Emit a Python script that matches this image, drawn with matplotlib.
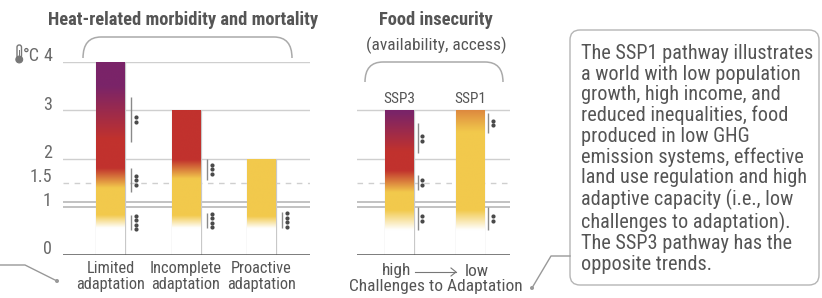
import numpy as np
import matplotlib
matplotlib.use('Agg')
import matplotlib.pyplot as plt
from matplotlib import font_manager
from matplotlib.transforms import Affine2D, blended_transform_factory
from matplotlib.path import Path
from matplotlib.patches import PathPatch, FancyBboxPatch, Circle, Rectangle
from matplotlib.lines import Line2D

W, H = 822, 298


def pick_font(cands):
    for c in cands:
        try:
            font_manager.findfont(font_manager.FontProperties(family=c), fallback_to_default=False)
            return c
        except Exception:
            pass
    return 'DejaVu Sans'


FONT = pick_font(['Liberation Sans Narrow', 'Roboto Condensed', 'Open Sans Condensed', 'Liberation Sans'])
plt.rcParams['font.family'] = [FONT, 'DejaVu Sans']

# ---------------- data ----------------
heat_categories = ['Limited\nadaptation', 'Incomplete\nadaptation', 'Proactive\nadaptation']
heat_top = [4, 3, 2]
# risk transitions (start, end) in degC: undetectable->moderate, moderate->high, high->very high
heat_moderate = [(0.56, 0.83), (0.56, 0.82), (0.55, 0.80)]
heat_high = [(1.39, 1.80), (1.58, 1.97), None]
heat_very_high = [(2.40, 3.50), None, None]
# confidence segments: (low, high, number of dots)
heat_confidence = [[(2.34, 3.27, 2), (1.30, 1.80, 3), (0.52, 0.83, 4)],
                   [(1.55, 2.00, 3), (0.56, 0.87, 4)],
                   [(0.56, 0.89, 4)]]

food_categories = ['SSP3', 'SSP1']
food_top = [3, 3]
food_moderate = [(0.52, 0.93), (0.52, 0.93)]
food_high = [(1.30, 1.75), (2.55, 3.60)]
food_very_high = [(2.15, 2.95), None]
food_confidence = [[(2.11, 2.73, 2), (1.35, 1.66, 2), (0.52, 1.00, 2)],
                   [(2.53, 2.94, 2), (0.52, 1.00, 2)]]

ytick_values = [0, 1, 1.5, 2, 3, 4]
ytick_labels = ['0', '1', '1.5', '2', '3', '4']

box_text = ("The SSP1 pathway illustrates\na world with low population\ngrowth, high income, and\n"
            "reduced inequalities, food\nproduced in low GHG\nemission systems, effective\n"
            "land use regulation and high\nadaptive capacity (i.e., low\nchallenges to adaptation).\n"
            "The SSP3 pathway has the\nopposite trends.")

# ---------------- style ----------------
WHITE = np.array([1.0, 1.0, 1.0])
YELLOW = np.array([242, 201, 76]) / 255
RED = np.array([193, 50, 45]) / 255
PURPLE = np.array([122, 36, 104]) / 255
TXT = '#555555'
GRID = '#cfcfcf'

fig = plt.figure(figsize=(W / 100, H / 100), dpi=100)
PX = Affine2D().scale(1, -1).translate(0, H)  # pixel coords, origin top-left


def frac(v, rng):
    if rng is None:
        return np.zeros_like(v)
    return np.clip((v - rng[0]) / (rng[1] - rng[0]), 0, 1)


def bar_colors(v, mod, high, vh):
    c = WHITE + (YELLOW - WHITE) * frac(v, mod)[:, None]
    c = c + (RED - YELLOW) * frac(v, high)[:, None]
    c = c + (PURPLE - RED) * frac(v, vh)[:, None]
    return np.clip(c, 0, 1)


def draw_panel(ax, cats, tops, mods, highs, vhs, confs, width, px_per_unit, line_px, dot_px):
    x = np.arange(len(cats))
    bars = ax.bar(x, tops, width=width, color='none', linewidth=0, zorder=3)
    for i, b in enumerate(bars):
        x0, x1 = b.get_x(), b.get_x() + b.get_width()
        ax.vlines([x0, x1], 0, tops[i], color='#c8c8c8', lw=0.9, zorder=2.4)
        v = np.linspace(0, tops[i], 500)
        img = bar_colors(v, mods[i], highs[i], vhs[i])[:, None, :]
        im = ax.imshow(img, extent=(x0, x1, 0, tops[i]), origin='lower', aspect='auto',
                       interpolation='bilinear', zorder=2.5)
        im.set_clip_path(b)
        lx = x1 + line_px / px_per_unit
        dx = x1 + dot_px / px_per_unit
        step = 4.6 / 48.25
        for lo, hi, n in confs[i]:
            ax.plot([lx, lx], [lo, hi], color='#8a8a8a', lw=1.0, zorder=4, solid_capstyle='butt')
            mid = (lo + hi) / 2
            ys = mid + (np.arange(n) - (n - 1) / 2) * step
            ax.plot(np.full(n, dx), ys, 'o', ms=3.0, color='#4a4a4a', mew=0, zorder=4)
    return x


def grid(ax, levels_solid):
    for lv in levels_solid:
        ax.axhline(lv, color=GRID, lw=1.0, zorder=1)
    ax.axhline(1.5, color=GRID, lw=1.0, ls=(0, (4, 4)), zorder=1)
    ax.axhline(1.0, color='#bdbdbd', lw=1.3, zorder=1)
    ax.axhline(1.09, color='#bdbdbd', lw=1.3, zorder=1)
    ax.axhline(0, color='#555555', lw=1.8, zorder=5)


def setup(ax):
    for s in ax.spines.values():
        s.set_visible(False)
    ax.set_ylim(0, 4)
    ax.set_yticks([])


# left panel
ax1 = fig.add_axes([63 / W, (H - 255) / H, (310 - 63) / W, (255 - 62) / H])
setup(ax1)
grid(ax1, [2, 3, 4])
x1 = draw_panel(ax1, heat_categories, heat_top, heat_moderate, heat_high, heat_very_high,
                heat_confidence, 0.384, 75.5, 6, 11)
ax1.set_xlim(-0.629, 2.642)
ax1.set_ylim(0, 4)
ax1.set_xticks(x1, heat_categories)
ax1.tick_params(axis='x', length=0, pad=4, labelsize=11.8, labelcolor=TXT)
for t in ax1.get_xticklabels():
    t.set_linespacing(1.1)
btr = blended_transform_factory(ax1.transAxes, ax1.transData)
for v, lab in zip(ytick_values, ytick_labels):
    ax1.annotate(lab, xy=(0, v), xycoords=btr, xytext=(-8, 0.5), textcoords='offset points',
                 ha='right', va='baseline', fontsize=13, color='#6a6a6a')
ax1.annotate('°C', xy=(0, ytick_values[-1]), xycoords=btr, xytext=(-17, 0.5), textcoords='offset points',
             ha='right', va='baseline', fontsize=13, color='#6a6a6a')

# right panel
ax2 = fig.add_axes([357 / W, (H - 255) / H, (510 - 357) / W, (255 - 62) / H])
setup(ax2)
grid(ax2, [2, 3])
x2 = draw_panel(ax2, food_categories, food_top, food_moderate, food_high, food_very_high,
                food_confidence, 0.41, 70.5, 4, 8.5)
ax2.set_xlim(-0.603, 1.567)
ax2.set_ylim(0, 4)
ax2.set_xticks([])
for i, lab in enumerate(food_categories):
    ax2.annotate(lab, xy=(x2[i], food_top[i]), xytext=(0, 3), textcoords='offset points',
                 ha='center', va='bottom', fontsize=11, color=TXT)

# thermometer icon
fig.add_artist(FancyBboxPatch((17, 45), 4.5, 13, boxstyle='round,pad=0,rounding_size=2.2',
                              transform=PX, fc='white', ec='#777777', lw=1.0))
fig.add_artist(Circle((19.25, 59.5), 3.4, transform=PX, fc='#777777', ec='#777777', lw=0.8))
fig.add_artist(Rectangle((18.5, 50), 1.5, 8, transform=PX, fc='#777777', ec='none'))

# titles
fig.text(183, 20, 'Heat-related morbidity and mortality', transform=PX, ha='center', va='center',
         fontsize=13.3, fontweight='bold', color=TXT)
fig.text(436, 20, 'Food insecurity', transform=PX, ha='center', va='center',
         fontsize=13.3, fontweight='bold', color=TXT)
fig.text(436, 45, '(availability, access)', transform=PX, ha='center', va='center',
         fontsize=12.5, color=TXT)


def brace(x0, x1, ytop, ybot, r):
    verts = [(x0, ybot), (x0, ytop), (x0 + r, ytop), (x1 - r, ytop), (x1, ytop), (x1, ybot)]
    codes = [Path.MOVETO, Path.CURVE3, Path.CURVE3, Path.LINETO, Path.CURVE3, Path.CURVE3]
    fig.add_artist(PathPatch(Path(verts, codes), transform=PX, fc='none', ec='#aaaaaa', lw=1.1))


brace(83, 292, 37, 58, 18)
brace(365, 503, 62, 82, 18)

# bottom labels of right panel
fig.text(397, 271, 'high', transform=PX, ha='center', va='center', fontsize=12.5, color=TXT)
fig.text(477, 271, 'low', transform=PX, ha='center', va='center', fontsize=12.5, color=TXT)
fig.add_artist(Line2D([415, 456], [272, 272], transform=PX, color='#777777', lw=0.8))
fig.add_artist(Line2D([451, 456, 451], [268, 272, 276], transform=PX, color='#777777', lw=0.8))
fig.text(436, 287, 'Challenges to Adaptation', transform=PX, ha='center', va='center',
         fontsize=12.5, color=TXT)

# connectors
fig.add_artist(Line2D([0, 25, 57], [265, 265, 281], transform=PX, color='#999999', lw=1.0))
fig.add_artist(Circle((57, 281), 2.0, transform=PX, fc='#999999', ec='none'))
fig.add_artist(Line2D([532, 551, 570], [288, 256, 256], transform=PX, color='#999999', lw=1.0))
fig.add_artist(Circle((532, 288), 2.0, transform=PX, fc='#999999', ec='none'))

# text box
fig.add_artist(FancyBboxPatch((570, 30), 249, 255, boxstyle='round,pad=0,rounding_size=10',
                              transform=PX, fc='white', ec='#b5b5b5', lw=1.0))
fig.text(581, 44, box_text, transform=PX, ha='left', va='top', fontsize=14.6,
         linespacing=1.1, color=TXT)

fig.savefig('out.png', dpi=100)
